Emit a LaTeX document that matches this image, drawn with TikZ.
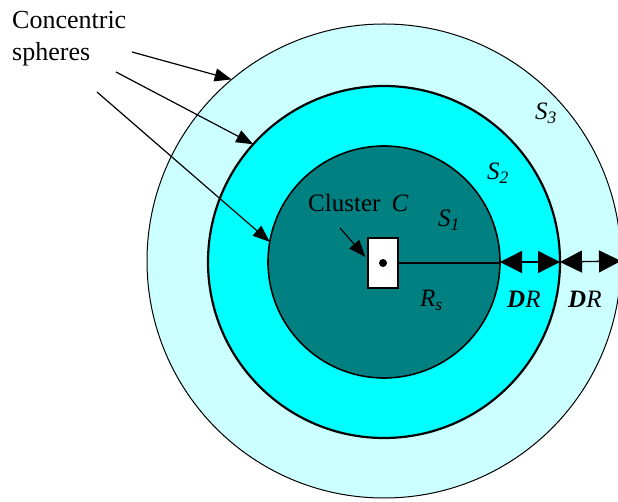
\documentclass[tikz,border=0pt]{standalone}
\usepackage{fontspec}
\setmainfont{Liberation Serif}
\usetikzlibrary{arrows.meta}
\definecolor{lightc}{HTML}{CCFFFF}
\definecolor{cyanc}{HTML}{00FFFF}
\definecolor{tealc}{HTML}{008080}
\begin{document}
\begin{tikzpicture}[x=1pt,y=-1pt, font=\fontsize{25}{30}\selectfont,
  sphere/.style={circle, draw, inner sep=0pt, outer sep=0pt},
  pointer/.style={-{Triangle[length=17pt,width=13pt]}, line width=1.2pt},
  dimarrow/.style={{Triangle[length=22pt,width=22pt]}-{Triangle[length=22pt,width=22pt]}, line width=1.3pt},
  lbl/.style={inner sep=0pt}]
\useasboundingbox (0,0) rectangle (618,502);
\node[sphere, fill=lightc, line width=1pt, minimum size=474pt] (s3) at (384,261) {};
\node[sphere, fill=cyanc, line width=2.2pt, minimum size=352pt] (s2) at (384,262) {};
\node[sphere, fill=tealc, line width=1.6pt, minimum size=232pt] (s1) at (384,262) {};
\node[draw, fill=white, line width=1.2pt, minimum width=30pt, minimum height=50pt, inner sep=0pt] (box) at (383,263) {};
\node[circle, fill=black, inner sep=0pt, minimum size=8pt] (dot) at (383,263) {};
\draw[line width=1.2pt] (box.east) -- (box.east -| s1.east);
\draw[dimarrow] (s1.east) -- (s2.east);
\draw[dimarrow] (s2.east) -- (s3.east);
% labels
\node[lbl, align=left, anchor=north west, font=\fontsize{26}{32}\selectfont] (title) at (12,11) {Concentric\\spheres};
\coordinate (p1) at (132,52);
\coordinate (p2) at (116,72);
\coordinate (p3) at (97,92);
\draw[pointer] (p1) -- (s3.130);
\draw[pointer] (p2) -- (s2.138);
\draw[pointer] (p3) -- (s1.170);
\node[lbl, anchor=base west] (cl) at (308,212) {Cluster\hspace{0.45em}\textit{C}};
\coordinate (q) at (340,228);
\draw[pointer] (q) -- ([yshift=6pt,xshift=-2pt]box.west);
\node[lbl, anchor=base west] (l1) at (438,227) {\textit{S}\textsubscript{\textit{1}}};
\node[lbl, anchor=base west] (l2) at (487,180) {\textit{S}\textsubscript{\textit{2}}};
\node[lbl, anchor=base west] (l3) at (535,120) {\textit{S}\textsubscript{\textit{3}}};
\node[lbl, anchor=base west] (rs) at (420,307) {\textit{R}\textsubscript{\textit{s}}};
\node[lbl, anchor=base west] (dr1) at (507,308) {\textbf{\textit{D}}\textit{R}};
\node[lbl, anchor=base west] (dr2) at (568,308) {\textbf{\textit{D}}\textit{R}};
\end{tikzpicture}
\end{document}
